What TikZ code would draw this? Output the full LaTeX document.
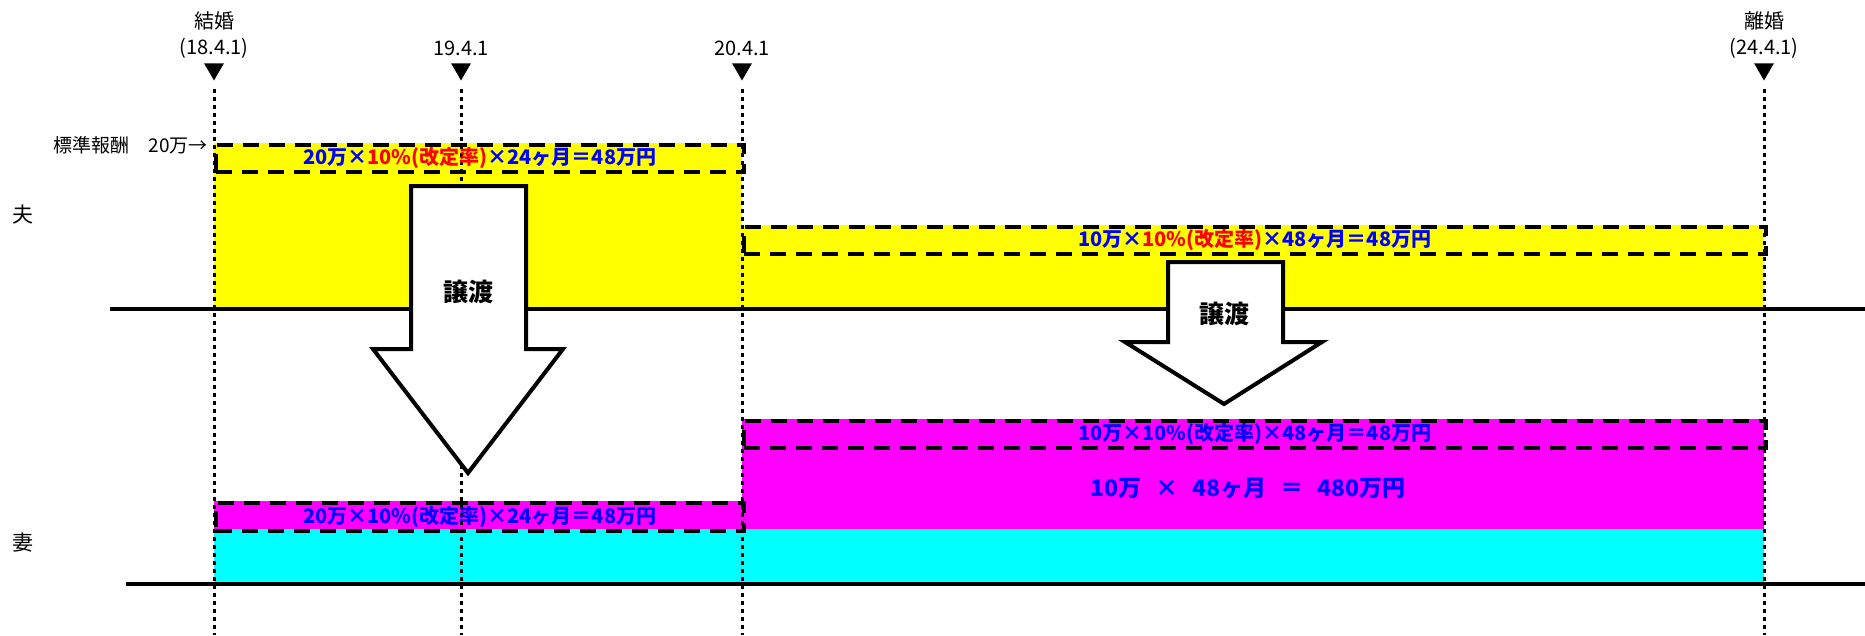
\documentclass[tikz,border=0pt]{standalone}
\usepackage{fontspec}
\setmainfont{Noto Sans CJK JP}
\definecolor{husbandyellow}{RGB}{255,255,0}
\definecolor{splitmagenta}{RGB}{255,0,255}
\definecolor{wifecyan}{RGB}{0,255,255}
\definecolor{calcblue}{RGB}{0,0,255}
\definecolor{ratered}{RGB}{255,0,0}
\usetikzlibrary{shapes.geometric}

\begin{document}
\begin{tikzpicture}[
  x=1pt, y=-1pt,
  datelbl/.style={font=\fontsize{20}{22}\selectfont, inner sep=0pt},
  sidelbl/.style={font=\fontsize{21}{23}\selectfont, inner sep=0pt},
  tick/.style={regular polygon, regular polygon sides=3, shape border rotate=180, fill=black, inner sep=0pt, minimum size=23pt},
  timeline/.style={line width=3pt, dash pattern=on 4pt off 4pt},
  axis/.style={line width=3.5pt},
  band/.style={draw, line width=3.5pt, dash pattern=on 16pt off 10pt, inner sep=0pt, minimum height=27pt, anchor=north west, font=\bfseries\fontsize{20}{20}\selectfont, text=calcblue},
  handover/.style={draw, line width=4pt, fill=white},
  handlbl/.style={font=\bfseries\fontsize{25}{25}\selectfont, inner sep=0pt},
]
\useasboundingbox (0,0) rectangle (1865,635);

% Husband's record
\fill[husbandyellow] (214,143) rectangle (742,309);
\fill[husbandyellow] (742,225) rectangle (1764,309);

% Wife's record
\fill[wifecyan] (214,529) rectangle (1764,584);
\fill[splitmagenta] (214,501) rectangle (742,529);
\fill[splitmagenta] (742,419) rectangle (1764,529);

% Dates
\node[tick] (t18) at (214,69) {};
\node[tick] (t19) at (461,69) {};
\node[tick] (t20) at (742,69) {};
\node[tick] (t24) at (1764,69) {};
\coordinate (e18) at (214,635);
\coordinate (e19) at (461,635);
\coordinate (e20) at (742,635);
\coordinate (e24) at (1764,635);
\draw[timeline] ([yshift=-8pt]t18.corner 1) -- (e18);
\draw[timeline] ([yshift=-8pt]t19.corner 1) -- (e19);
\draw[timeline] ([yshift=-8pt]t20.corner 1) -- (e20);
\draw[timeline] ([yshift=-8pt]t24.corner 1) -- (e24);

\node[datelbl] (wed) at (214,21) {結婚};
\node[datelbl] (wedday) at (214,48) {(18.4.1)};
\node[datelbl] (d19) at (461,48) {19.4.1};
\node[datelbl] (d20) at (742,48) {20.4.1};
\node[datelbl] (div) at (1764,21) {離婚};
\node[datelbl] (divday) at (1764,48) {(24.4.1)};

% Axes
\coordinate (hstart) at (110,309);
\coordinate (hend) at (1865,309);
\coordinate (wstart) at (126,584);
\coordinate (wend) at (1865,584);
\draw[axis] (hstart) -- (hend);
\draw[axis] (wstart) -- (wend);

\node[sidelbl] (husband) at (23,215) {夫};
\node[sidelbl] (wife) at (23,543) {妻};
\node[datelbl, anchor=east, font=\fontsize{19}{21}\selectfont] (std) at (208,145) {標準報酬　20万→};

% Split bands
\node[band, minimum width=528pt] (hband1) at (214,143) {20万×\textcolor{ratered}{10\%(改定率)}×24ヶ月＝48万円};
\node[band, minimum width=1022pt] (hband2) at (742,225) {10万×\textcolor{ratered}{10\%(改定率)}×48ヶ月＝48万円};
\node[band, minimum width=1022pt] (wband2) at (742,419) {10万×10\%(改定率)×48ヶ月＝48万円};
\node[band, minimum width=528pt, minimum height=28pt] (wband1) at (214,501) {20万×10\%(改定率)×24ヶ月＝48万円};
\node[font=\bfseries\fontsize{23}{23}\selectfont, text=calcblue, inner sep=0pt] (total) at (1248,488) {10万\hspace{0.6em}×\hspace{0.6em}48ヶ月\hspace{0.6em}＝\hspace{0.6em}480万円};

% Transfer arrows
\draw[handover] (411,186) -- (526,186) -- (526,349) -- (563,349) -- (468,473) -- (373,349) -- (411,349) -- cycle;
\node[handlbl] (give1) at (468,292) {譲渡};
\draw[handover] (1168,262) -- (1283,262) -- (1283,342) -- (1322,342) -- (1224,404) -- (1125,342) -- (1168,342) -- cycle;
\node[handlbl] (give2) at (1224,314) {譲渡};

\end{tikzpicture}
\end{document}
